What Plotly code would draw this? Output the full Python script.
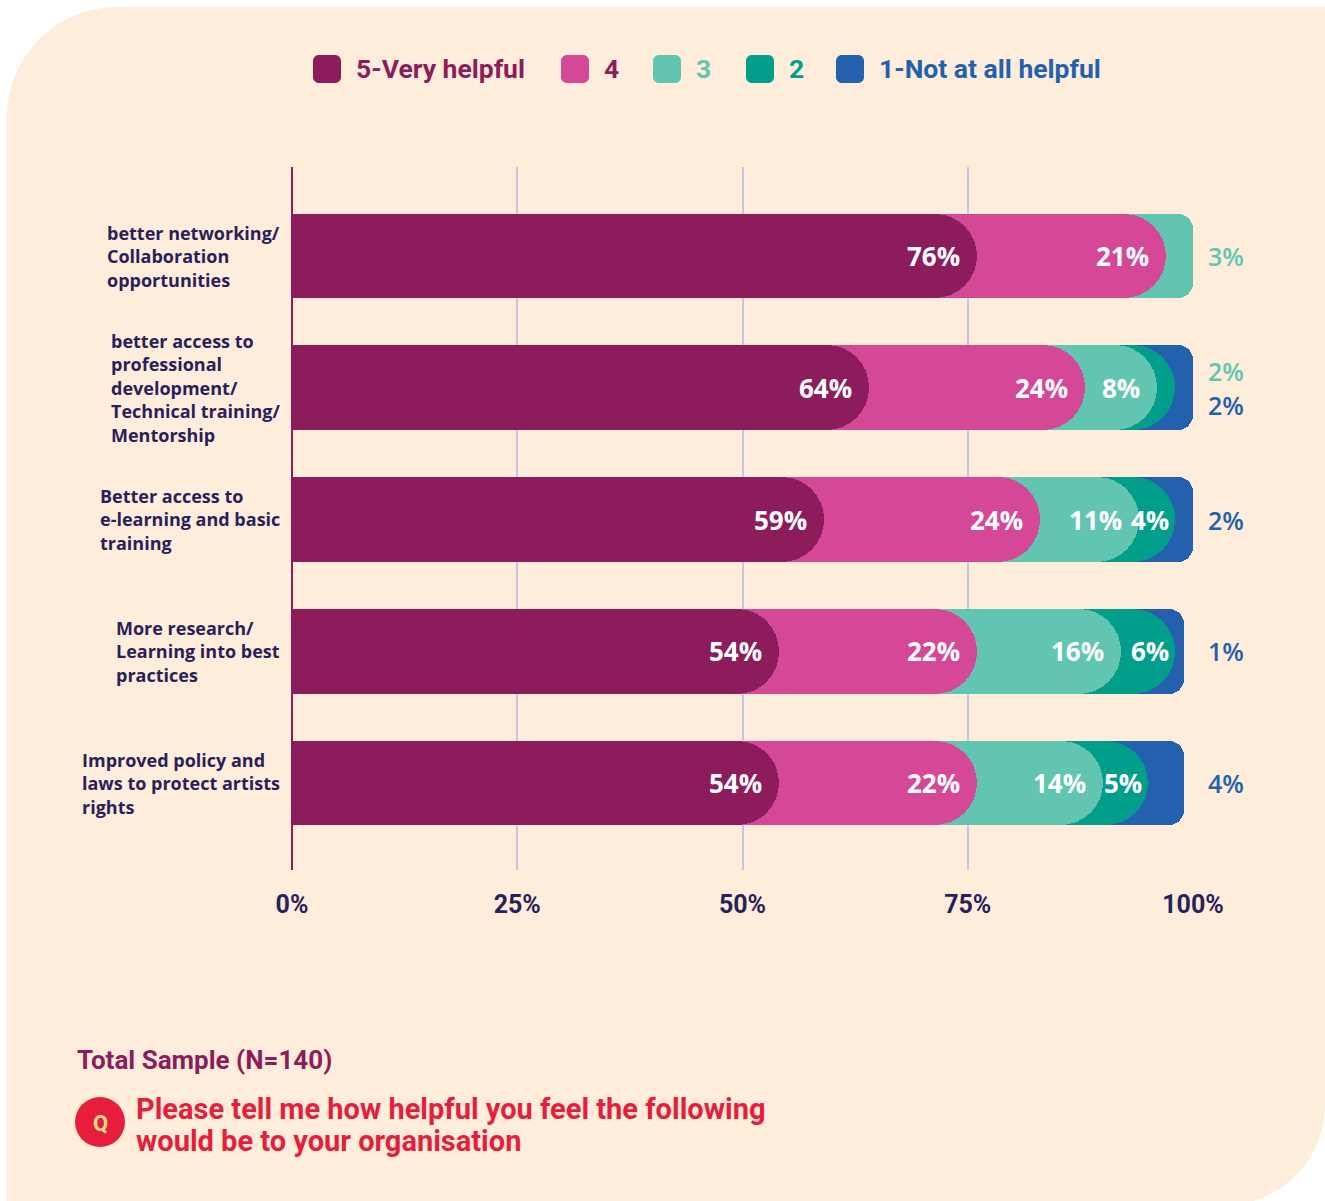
import math
import plotly.graph_objects as go

# ---- data -------------------------------------------------------------
categories = [
    "better networking/<br>Collaboration<br>opportunities",
    "better access to<br>professional<br>development/<br>Technical training/<br>Mentorship",
    "Better access to<br>e-learning and basic<br>training",
    "More research/<br>Learning into best<br>practices",
    "Improved policy and<br>laws to protect artists<br>rights",
]
levels = ["5-Very helpful", "4", "3", "2", "1-Not at all helpful"]
very_helpful = [76, 64, 59, 54, 54]
helpful_4 = [21, 24, 24, 22, 22]
helpful_3 = [3, 8, 11, 16, 14]
helpful_2 = [0, 2, 4, 6, 5]
not_helpful = [0, 2, 2, 1, 4]
x_ticks = [0, 25, 50, 75, 100]
x_tick_labels = [f"{t}%" for t in x_ticks]

# ---- styling ----------------------------------------------------------
bar_colors = ["#8c1c5c", "#d54797", "#62c5b1", "#009e8b", "#2360ad"]
legend_text_colors = ["#8c1c5c", "#8c1c5c", "#62c5b1", "#009e8b", "#2360ad"]
outside_colors = ["#8c1c5c", "#d54797", "#62c5b1", "#62c5b1", "#2360ad"]
navy = "#2a1f5a"
peach = "#feeddb"
red = "#e61e3c"

W, H = 1325, 1201
L, R, T, B = 292, 1193, 167, 870          # plot area in pixels
ROW0, ROW_STEP = 256, 131.75               # centre of first row, row pitch


def px(x):
    return (x - L) / (R - L)


def py(y):
    return (B - y) / (B - T)


def path_from(points):
    return "M " + " L ".join(f"{px(x):.5f},{py(y):.5f}" for x, y in points) + " Z"


def arc(cx, cy, r, a0, a1, n=24):
    return [(cx + r * math.cos(a0 + (a1 - a0) * i / n),
             cy + r * math.sin(a0 + (a1 - a0) * i / n)) for i in range(n + 1)]


def rounded_rect(x0, y0, x1, y1, r):
    pts = []
    pts += arc(x0 + r, y0 + r, r, math.pi, 1.5 * math.pi, 8)
    pts += arc(x1 - r, y0 + r, r, 1.5 * math.pi, 2 * math.pi, 8)
    pts += arc(x1 - r, y1 - r, r, 0, 0.5 * math.pi, 8)
    pts += arc(x0 + r, y1 - r, r, 0.5 * math.pi, math.pi, 8)
    return path_from(pts)


series = [very_helpful, helpful_4, helpful_3, helpful_2, not_helpful]
n_rows = len(categories)
rows = list(range(n_rows))

# cumulative end of each segment
cum = []
running = [0] * n_rows
for vals in series:
    running = [a + b for a, b in zip(running, vals)]
    cum.append(running)

# last non-empty level of each row gets the softly rounded outer end
last = [max(k for k in range(len(series)) if series[k][r] > 0) for r in rows]

fig = go.Figure()
BAR_W = 0.645
y_range = [4 + (B - (ROW0 + 4 * ROW_STEP)) / ROW_STEP, -(ROW0 - T) / ROW_STEP]

# each layer sits on its own overlaid y axis so every bar keeps its own rounded end
layer_axes = []
fig.add_trace(go.Bar(
    y=rows, x=[cum[last[r]][r] for r in rows], orientation="h", width=BAR_W,
    marker=dict(color=[bar_colors[last[r]] for r in rows], cornerradius=15,
                line=dict(width=0)),
    showlegend=False, hoverinfo="skip", yaxis="y",
))
axis_no = 2
for k in range(len(series) - 2, -1, -1):
    xs = [cum[k][r] if (series[k][r] > 0 and k != last[r]) else None for r in rows]
    fig.add_trace(go.Bar(
        y=rows, x=xs, orientation="h", width=BAR_W, name=levels[k],
        marker=dict(color=bar_colors[k], cornerradius="50%", line=dict(width=0)),
        showlegend=False, hoverinfo="skip", yaxis=f"y{axis_no}",
    ))
    layer_axes.append(axis_no)
    axis_no += 1

annotations = []

# values inside the bars / beside them
for r in rows:
    outside = []
    for k, vals in enumerate(series):
        v = vals[r]
        if v <= 0:
            continue
        if k == len(series) - 1 or v < 4:
            outside.append((k, v))
            continue
        annotations.append(dict(
            x=cum[k][r], y=r, xref="x", yref="y", text=f"{v}%",
            xanchor="right", yanchor="middle", showarrow=False,
            xshift=-15 if v >= 8 else -4,
            font=dict(family="Open Sans", size=26, color="white", weight=700),
        ))
    for i, (k, v) in enumerate(outside):
        shift = 0 if len(outside) == 1 else (17 if i == 0 else -17)
        annotations.append(dict(
            x=100, y=r, xref="x", yref="y", text=f"{v}%",
            xanchor="left", yanchor="middle", showarrow=False,
            xshift=14, yshift=shift, borderpad=0,
            font=dict(family="Open Sans", size=25, color=outside_colors[k], weight=600),
        ))

# category labels
for r, name in enumerate(categories):
    annotations.append(dict(
        x=0, y=r, xref="paper", yref="y", text=name, align="left",
        xanchor="right", yanchor="middle", showarrow=False, xshift=-10,
        font=dict(family="Open Sans", size=18, color=navy, weight=700),
    ))

shapes = [
    # card background
    dict(type="path", xref="paper", yref="paper", layer="below",
         path=path_from([(7, 1201)]
                        + arc(117, 117, 110, math.pi, 1.5 * math.pi)
                        + [(1325, 7)]
                        + arc(1225, 1105, 100, 0, math.asin(96 / 100))),
         fillcolor=peach, line=dict(width=0)),
]

# legend
legend_box_x = [313, 561, 653, 746, 836]
for k, name in enumerate(levels):
    x0 = legend_box_x[k]
    shapes.append(dict(type="path", xref="paper", yref="paper",
                       path=rounded_rect(x0, 55, x0 + 28, 83, 6),
                       fillcolor=bar_colors[k], line=dict(width=0)))
    annotations.append(dict(
        x=px(x0 + 41), y=py(69), xref="paper", yref="paper", text=name,
        xanchor="left", yanchor="middle", showarrow=False,
        font=dict(family="Roboto", size=26.5, color=legend_text_colors[k], weight=700),
    ))

# footer
annotations.append(dict(
    x=px(75), y=py(1060), xref="paper", yref="paper", text="Total Sample (N=140)",
    xanchor="left", yanchor="middle", showarrow=False,
    font=dict(family="Roboto", size=26, color="#8c1c5c", weight=700),
))
shapes.append(dict(type="circle", xref="paper", yref="paper",
                   x0=px(75), x1=px(125), y0=py(1147), y1=py(1097),
                   fillcolor=red, line=dict(width=0)))
annotations.append(dict(
    x=px(100), y=py(1123), xref="paper", yref="paper", text="Q",
    xanchor="center", yanchor="middle", showarrow=False,
    font=dict(family="Roboto", size=22, color="#ffd98a", weight=700),
))
for text, yy in [("Please tell me how helpful you feel the following", 1109),
                 ("would be to your organisation", 1141)]:
    annotations.append(dict(
        x=px(134), y=py(yy), xref="paper", yref="paper", text=text,
        xanchor="left", yanchor="middle", showarrow=False,
        font=dict(family="Roboto", size=29, color=red, weight=700),
    ))

layout_axes = {}
for n in layer_axes:
    layout_axes[f"yaxis{n}"] = dict(range=y_range, overlaying="y", visible=False,
                                    showgrid=False, zeroline=False, fixedrange=True)

fig.update_layout(
    width=W, height=H,
    margin=dict(l=L, r=W - R, t=T, b=H - B, pad=0),
    paper_bgcolor="white", plot_bgcolor="rgba(0,0,0,0)",
    barmode="overlay", bargap=0,
    showlegend=False,
    xaxis=dict(range=[0, 100], tickvals=x_ticks, ticktext=x_tick_labels,
               showgrid=True, gridcolor="#c8c5e2", gridwidth=1.5,
               zeroline=True, zerolinecolor="#8c1c5c", zerolinewidth=2,
               showline=False, ticks="", ticklabelstandoff=17,
               tickfont=dict(family="Roboto", size=25, color=navy, weight=700),
               fixedrange=True),
    yaxis=dict(range=y_range, showticklabels=False, showgrid=False, zeroline=False,
               showline=False, fixedrange=True),
    shapes=shapes,
    annotations=annotations,
    **layout_axes,
)

fig.write_html("out.html")
